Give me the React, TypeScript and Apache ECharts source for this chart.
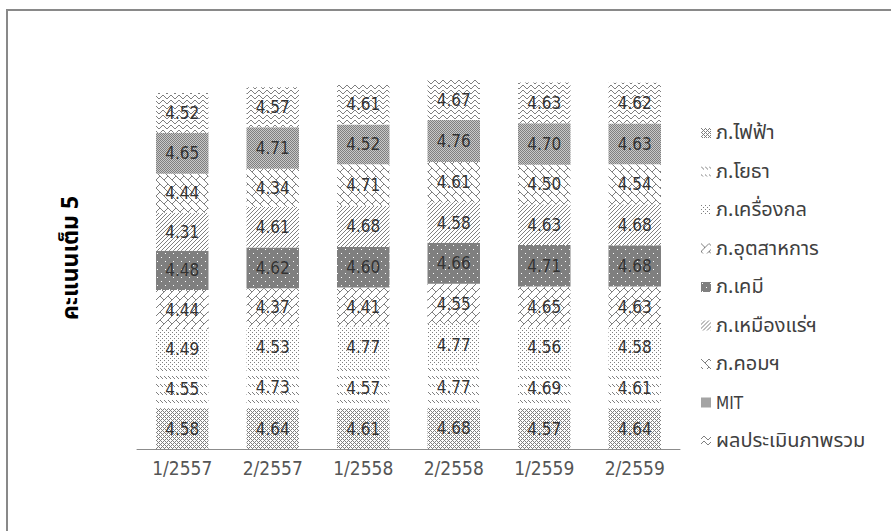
import React, { useEffect, useRef } from "react";
import * as echarts from "echarts";

const categories = ["1/2557", "2/2557", "1/2558", "2/2558", "1/2559", "2/2559"];
const seriesNames = [
  "ภ.ไฟฟ้า",
  "ภ.โยธา",
  "ภ.เครื่องกล",
  "ภ.อุตสาหการ",
  "ภ.เคมี",
  "ภ.เหมืองแร่ฯ",
  "ภ.คอมฯ",
  "MIT",
  "ผลประเมินภาพรวม",
];
const electrical = [4.58, 4.64, 4.61, 4.68, 4.57, 4.64];
const civil = [4.55, 4.73, 4.57, 4.77, 4.69, 4.61];
const mechanical = [4.49, 4.53, 4.77, 4.77, 4.56, 4.58];
const industrial = [4.44, 4.37, 4.41, 4.55, 4.65, 4.63];
const chemical = [4.48, 4.62, 4.6, 4.66, 4.71, 4.68];
const mining = [4.31, 4.61, 4.68, 4.58, 4.63, 4.68];
const computer = [4.44, 4.34, 4.71, 4.61, 4.5, 4.54];
const mit = [4.65, 4.71, 4.52, 4.76, 4.7, 4.63];
const overall = [4.52, 4.57, 4.61, 4.67, 4.63, 4.62];
const seriesValues = [electrical, civil, mechanical, industrial, chemical, mining, computer, mit, overall];
const yTitle = "คะแนนเต็ม 5";

const FG = "#7f7f7f";

function makePattern(w: number, h: number, bg: string, fg: string, pts: number[][]) {
  const c = document.createElement("canvas");
  c.width = w;
  c.height = h;
  const ctx = c.getContext("2d")!;
  ctx.fillStyle = bg;
  ctx.fillRect(0, 0, w, h);
  ctx.fillStyle = fg;
  pts.forEach(([x, y]) => ctx.fillRect(x, y, 1, 1));
  return { image: c.toDataURL(), repeat: "repeat", imageWidth: w, imageHeight: h };
}

function buildPatterns() {
  const range = (n: number) => Array.from({ length: n }, (_, i) => i);
  const pElec = makePattern(4, 4, "#ffffff", FG, [[0, 0], [1, 1], [3, 1], [2, 2], [1, 3], [3, 3]]);
  const pCivil = makePattern(4, 8, "#ffffff", FG, [[0, 0], [1, 1], [2, 2]]);
  const pMech = makePattern(4, 4, "#ffffff", FG, [[0, 0], [2, 2]]);
  const pInd = makePattern(8, 8, "#ffffff", FG, [
    ...range(8).map((i) => [i, 7 - i]),
    [0, 0], [1, 1], [2, 2], [3, 3],
  ]);
  const pChem = makePattern(8, 8, "#7f7f7f", "#ffffff", [[1, 1], [5, 5]]);
  const pMine = makePattern(4, 4, "#ffffff", FG, [[3, 0], [2, 1], [1, 2], [0, 3]]);
  const pComp = makePattern(8, 8, "#ffffff", FG, [
    ...range(8).map((i) => [i, i]),
    [7, 0], [6, 1], [5, 2], [4, 3],
  ]);
  const pMit = makePattern(2, 2, "#c8c8c8", FG, [[0, 0], [1, 1]]);
  const pOver = makePattern(8, 5, "#ffffff", FG, [
    [0, 2], [1, 1], [2, 0], [3, 0], [4, 1], [5, 2], [6, 3], [7, 3],
  ]);
  return [pElec, pCivil, pMech, pInd, pChem, pMine, pComp, pMit, pOver];
}

export default function App() {
  const ref = useRef<HTMLDivElement>(null);
  useEffect(() => {
    if (!ref.current) return;
    const chart = echarts.init(ref.current, undefined, { renderer: "svg" });
    const patterns = buildPatterns();
    const numFont = "'DejaVu Sans Condensed', 'DejaVu Sans', sans-serif";
    const thaiFont = "Tahoma, 'Noto Sans Thai', 'DejaVu Sans Condensed', sans-serif";
    chart.setOption({
      animation: false,
      backgroundColor: "#ffffff",
      grid: { left: 137, right: 211, top: 53, bottom: 82, containLabel: false },
      xAxis: {
        type: "category",
        data: categories,
        axisLine: { show: true, lineStyle: { color: "#8c8c8c", width: 1 } },
        axisTick: { show: false },
        axisLabel: { color: "#555555", fontSize: 19, fontFamily: numFont, margin: 9 },
      },
      yAxis: {
        type: "value",
        min: 0,
        max: 45,
        axisLine: { show: false },
        axisTick: { show: false },
        axisLabel: { show: false },
        splitLine: { show: false },
      },
      legend: {
        orient: "vertical",
        left: 696,
        top: 117,
        itemWidth: 10,
        itemHeight: 10,
        itemGap: 16.5,
        icon: "rect",
        data: seriesNames,
        formatter: (name: string) => (name === "MIT" ? "{l|" + name + "}" : "{t|" + name + "}"),
        textStyle: {
          color: "#404040",
          fontSize: 14,
          fontFamily: thaiFont,
          lineHeight: 22,
          rich: {
            t: { fontSize: 20, fontFamily: thaiFont, color: "#404040", lineHeight: 22 },
            l: { fontSize: 17, fontFamily: numFont, color: "#404040", lineHeight: 22 },
          },
        },
      },
      graphic: [
        {
          type: "rect",
          shape: { x: 7, y: 10, width: 1000, height: 1000 },
          style: { fill: "none", stroke: "#898989", lineWidth: 2 },
          silent: true,
        },
        {
          type: "text",
          x: 71,
          y: 258,
          rotation: Math.PI / 2,
          style: {
            text: yTitle,
            fill: "#000000",
            font: "bold 23px " + thaiFont,
            textAlign: "center",
            textVerticalAlign: "middle",
          },
        },
      ],
      series: seriesNames.map((name, i) => ({
        name,
        type: "bar",
        stack: "total",
        barCategoryGap: "42%",
        data: seriesValues[i],
        itemStyle: { color: patterns[i] },
        label: {
          show: true,
          position: "inside",
          color: "#333333",
          fontSize: 17,
          fontFamily: numFont,
          formatter: (p: any) => Number(p.value).toFixed(2),
        },
      })),
    });
    return () => chart.dispose();
  }, []);
  return (
    <div
      ref={ref}
      style={{ position: "absolute", left: 0, top: 0, width: 891, height: 531, background: "#fff" }}
    />
  );
}
